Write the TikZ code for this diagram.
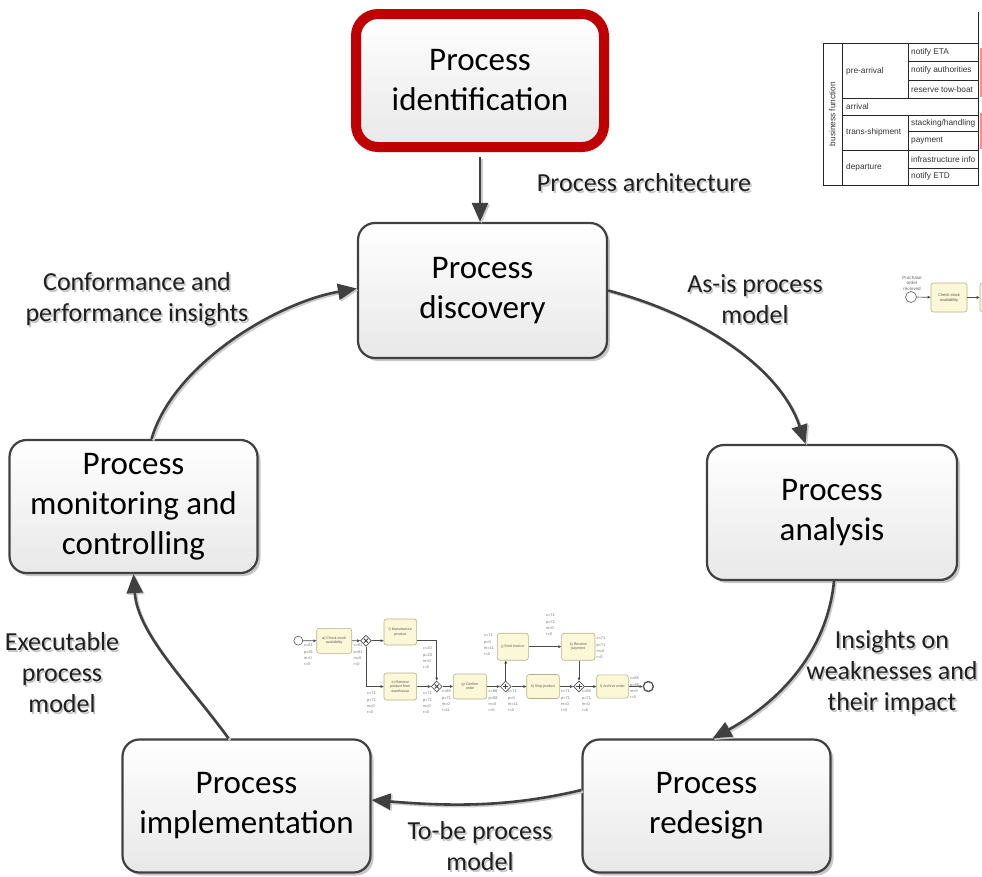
\documentclass[tikz,border=0pt]{standalone}
\usepackage{fontspec}
\setmainfont{Carlito}
\newfontfamily\tinysans{Liberation Sans}
\usetikzlibrary{arrows.meta,shadows,calc,shapes.geometric}

\definecolor{edge}{HTML}{404040}
\definecolor{boxbot}{HTML}{E8E8E8}
\definecolor{idred}{HTML}{C00000}
\definecolor{taskfill}{HTML}{FBF8D8}
\definecolor{taskline}{HTML}{B9AF86}
\definecolor{txtshadow}{HTML}{C4C4C4}

% label with a soft grey text shadow
\newcommand\flowlabel[3]{%
  \node[lblsh] (#1-sh) at ($(#2)+(1.6,1.6)$) {#3};
  \node[lbl] (#1) at (#2) {#3};}
% token counts next to a BPMN element
\newcommand\tokens[6]{%
  \node[tok] (#1) at (#2) {c=#3\\p=#4\\m=#5\\r=#6};}

\begin{document}
\begin{tikzpicture}[x=1pt,y=-1pt,
  phase/.style={draw=edge, line width=2.2pt, rounded corners=17pt,
    top color=white, bottom color=boxbot, align=center,
    font=\fontsize{33}{40}\selectfont, inner sep=0pt,
    minimum width=248pt, minimum height=133pt,
    drop shadow={shadow xshift=3pt, shadow yshift=-3pt, fill=black, opacity=0.22}},
  flow/.style={draw=edge, line width=2.6pt, -{Triangle[length=19pt,width=16pt]},
    preaction={draw=black!20, line width=2.6pt, -{Triangle[length=19pt,width=16pt]},
      transform canvas={shift={(1.6pt,-1.6pt)}}}},
  lbl/.style={align=center, font=\fontsize{26}{31}\selectfont, text=black!88, inner sep=0pt},
  lblsh/.style={lbl, text=txtshadow},
  grid/.style={draw=black!85, line width=0.7pt},
  cell/.style={anchor=west, inner sep=0pt, font=\tinysans\fontsize{8.3}{10}\selectfont, text=black!80},
  task/.style={draw=taskline, fill=taskfill, line width=0.6pt, rounded corners=2.5pt,
    align=center, inner sep=0pt, font=\tinysans\fontsize{3.6}{4.3}\selectfont, text=black!65},
  gate/.style={diamond, draw=black!70, fill=white, line width=0.6pt, inner sep=0pt,
    minimum width=11pt, minimum height=11pt},
  evt/.style={circle, draw=black!65, fill=white, line width=0.6pt, inner sep=0pt, minimum size=9pt},
  seq/.style={draw=black!70, line width=0.7pt, -{Triangle[length=3pt,width=2.6pt]}},
  tok/.style={anchor=north west, align=left, inner sep=0pt,
    font=\tinysans\fontsize{3.9}{6.2}\selectfont, text=black!55}
]
\useasboundingbox (0,0) rectangle (982,876);

% ---------------- lifecycle phases ----------------
\node[phase, draw=idred, line width=10pt, rounded corners=22pt] (ident) at (480,80.5) {Process\\identification};
\node[phase, minimum width=249pt, minimum height=135pt] (disc) at (482.5,290.5) {Process\\discovery};
\node[phase, minimum width=250pt, minimum height=135pt] (ana) at (832,512.5) {Process\\analysis};
\node[phase] (redes) at (706.5,806) {Process\\redesign};
\node[phase] (impl) at (246.5,806) {Process\\implementation};
\node[phase] (mon) at (133.5,506.5) {Process\\monitoring and\\controlling};

% ---------------- connectors ----------------
\draw[flow, shorten <=5pt] (ident.south) -- (ident.south |- disc.north);
\coordinate (anaIn) at ($(ana.north west)!0.395!(ana.north east)$);
\draw[flow] (disc.east) .. controls +(95,25) and +(-25,-75) .. (anaIn);
\coordinate (anaOut) at ($(ana.south)+(2,0)$);
\coordinate (redIn) at ($(redes.north)+(6,0)$);
\draw[flow] (anaOut) .. controls +(-8,80) and +(55,-30) .. (redIn);
\coordinate (redOut) at ($(redes.west)+(0,-16)$);
\coordinate (impIn) at ($(impl.east)+(0,-6)$);
\draw[flow] (redOut) .. controls +(-75,18) and +(75,6) .. (impIn);
\coordinate (impOut) at ($(impl.north)+(-18,0)$);
\draw[flow] (impOut) .. controls +(-40,-55) and +(4,60) .. (mon.south);
\coordinate (monOut) at ($(mon.north)+(18,0)$);
\coordinate (discIn) at ($(disc.west)+(0,-2)$);
\draw[flow] (monOut) .. controls +(22,-75) and +(-80,14) .. (discIn);

% ---------------- labels ----------------
\flowlabel{la}{644,183}{Process architecture}
\flowlabel{lb}{755,299.5}{As-is process\\model}
\flowlabel{lc}{892,673}{Insights on\\weaknesses and\\their impact}
\flowlabel{ld}{480,846.5}{To-be process\\model}
\flowlabel{le}{62,673}{Executable\\process\\model}
\flowlabel{lf}{137,299.5}{Conformance and\\performance insights}

% ---------------- process architecture table ----------------
\draw[grid] (978,12) -- (978,185);
\draw[grid] (823,43.3) rectangle (978,185);
\draw[grid] (842,43.3) -- (842,185);
\draw[grid] (908,43.3) -- (908,98.3) (908,115) -- (908,185);
\draw[grid] (908,61.7) -- (978,61.7) (908,80) -- (978,80);
\draw[grid] (842,98.3) -- (978,98.3) (842,115) -- (978,115);
\draw[grid] (908,131.7) -- (978,131.7) (842,150) -- (978,150) (908,168.3) -- (978,168.3);
\fill[red!45!white] (980,48) rectangle (982,97);
\fill[red!45!white] (980,113) rectangle (982,149);
\node[cell, anchor=center, rotate=90] (bf) at (832.5,114) {business function};
\node[cell] (c1) at (846,71) {pre-arrival};
\node[cell] (c2) at (846,106.7) {arrival};
\node[cell] (c3) at (846,132.8) {trans-shipment};
\node[cell] (c4) at (846,167.5) {departure};
\node[cell] (c5) at (911,52.5) {notify ETA};
\node[cell] (c6) at (911,70.8) {notify authorities};
\node[cell] (c7) at (911,89.2) {reserve tow-boat};
\node[cell] (c8) at (911,123.3) {stacking/handling};
\node[cell] (c9) at (911,140.8) {payment};
\node[cell] (c10) at (911,159.2) {infrastructure info};
\node[cell] (c11) at (911,176.7) {notify ETD};

% ---------------- as-is model fragment ----------------
\node[evt, minimum size=11pt] (rs) at (911,297) {};
\node[tok, anchor=south, align=center, text=black!60, font=\tinysans\fontsize{4.6}{5.6}\selectfont] (rsl) at (912,290.5) {Purchase\\order\\received};
\node[task, minimum width=36pt, minimum height=29pt, font=\tinysans\fontsize{4}{5}\selectfont] (rt) at (949,297.5) {Check stock\\availability};
\node[task, minimum width=30pt, minimum height=29pt] (rt2) at (995,297.5) {};
\draw[seq] (rs) -- (rt);
\draw[seq] (rt) -- (rt2);

% ---------------- to-be model fragment ----------------
\node[evt] (s) at (298.3,640.7) {};
\node[task, minimum width=35pt, minimum height=25pt] (a) at (334.2,640.8) {a) Check stock\\availability};
\node[gate] (x1) at (366,640.7) {};
\node[task, minimum width=32.7pt, minimum height=26pt] (f) at (400.3,632) {f) Manufacture\\product};
\node[task, minimum width=32.7pt, minimum height=27pt] (e) at (400.3,686.5) {e) Retrieve\\product from\\warehouse};
\node[gate] (x2) at (436.7,686.5) {};
\node[task, minimum width=33.4pt, minimum height=25pt] (g) at (470,686.5) {g) Confirm\\order};
\node[gate] (p1) at (505.7,686.5) {};
\node[task, minimum width=31pt, minimum height=27pt] (j) at (512.8,646.7) {j) Emit invoice};
\node[task, minimum width=32.6pt, minimum height=24pt] (h) at (543,686.5) {h) Ship product};
\node[task, minimum width=33.3pt, minimum height=27pt] (k) at (578.3,646.7) {k) Receive\\payment};
\node[gate] (p2) at (579,686.5) {};
\node[task, minimum width=31.6pt, minimum height=23.3pt] (l) at (612.5,686.5) {l) Archive order};
\node[evt, line width=1.4pt, minimum size=10pt] (en) at (648.3,686.5) {};
% gateway markers
\foreach \gw in {x1,x2}{
  \draw[black!75, line width=0.9pt] ($(\gw)+(-2,-2)$) -- ($(\gw)+(2,2)$) ($(\gw)+(-2,2)$) -- ($(\gw)+(2,-2)$);}
\foreach \gw in {p1,p2}{
  \draw[black!75, line width=0.9pt] ($(\gw)+(-2.6,0)$) -- ($(\gw)+(2.6,0)$) ($(\gw)+(0,-2.6)$) -- ($(\gw)+(0,2.6)$);}
% sequence flows
\draw[seq] (s) -- (a);
\draw[seq] (a) -- (x1);
\draw[seq] (x1.east) -- (x1 -| f.west);
\draw[seq] (x1.south) |- (e.west);
\draw[seq] (f.east |- x1) -| (x2.north);
\draw[seq] (e) -- (x2);
\draw[seq] (x2) -- (g);
\draw[seq] (g) -- (p1);
\draw[seq] (p1.north) -- (p1 |- j.south);
\draw[seq] (p1) -- (h);
\draw[seq] (j) -- (k);
\draw[seq] (k.south -| p2) -- (p2.north);
\draw[seq] (h) -- (p2);
\draw[seq] (p2) -- (l);
\draw[seq] (l) -- (en);
% token counts
\tokens{k1}{304,644}{81}{81}{0}{0}
\tokens{k2}{353.5,644}{81}{81}{0}{0}
\tokens{k3}{423,647}{20}{20}{0}{0}
\tokens{k4}{367,692}{71}{71}{0}{0}
\tokens{k5}{423,692}{71}{71}{0}{0}
\tokens{k6}{442,690}{88}{71}{0}{11}
\tokens{k7}{488.5,690}{88}{88}{0}{0}
\tokens{k8}{508,690}{71}{0}{11}{0}
\tokens{k9}{484,634}{71}{0}{11}{0}
\tokens{k10}{546,614}{71}{71}{0}{0}
\tokens{k11}{596.5,637}{71}{71}{0}{0}
\tokens{k12}{561,690}{71}{71}{0}{0}
\tokens{k13}{582,690}{88}{71}{0}{6}
\tokens{k14}{630,677}{88}{88}{0}{0}
\end{tikzpicture}
\end{document}
